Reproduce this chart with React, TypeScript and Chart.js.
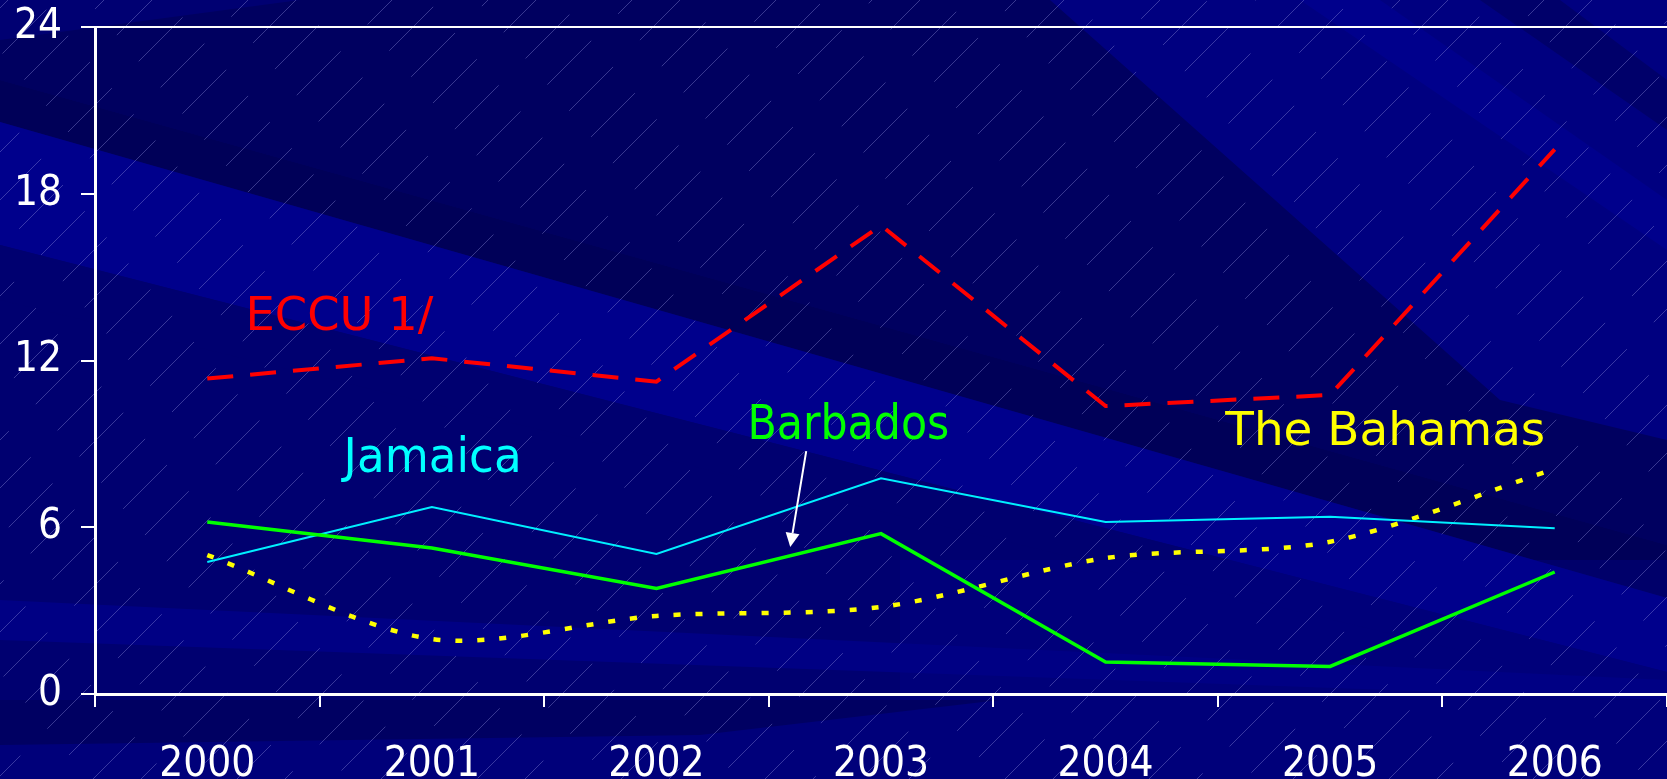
import React, { useEffect, useRef } from "react";
import { Chart, registerables } from "chart.js";

Chart.register(...registerables);

// Years on the category axis
const years = ["2000", "2001", "2002", "2003", "2004", "2005", "2006"];

// Series values
const eccu = [11.35, 12.08, 11.24, 16.86, 10.36, 10.76, 19.6];
const jamaica = [4.75, 6.73, 5.04, 7.76, 6.19, 6.38, 5.96];
const barbados = [6.19, 5.25, 3.8, 5.77, 1.15, 0.99, 4.39];
const bahamas = [5.0, 1.98, 2.81, 3.13, 4.89, 5.48, 8.1];

// Value axis ticks
const yTicks = [0, 6, 12, 18, 24];

const W = 1667;
const H = 779;

const TICK_FONT = '"DejaVu Sans Condensed", "DejaVu Sans", sans-serif';
const LABEL_FONT = '"DejaVu Sans", sans-serif';

// Series captions, anchored in data space (category index, value) at the text baseline
const captions = [
  { text: "ECCU 1/", x: 0.17, y: 13.1, color: "#ff0000", size: 47, maxWidth: 188 },
  { text: "Jamaica", x: 0.607, y: 7.99, color: "#00ffff", size: 48, maxWidth: 178 },
  { text: "Barbados", x: 2.405, y: 9.18, color: "#00ff00", size: 48, maxWidth: 202 },
  { text: "The Bahamas", x: 4.533, y: 8.96, color: "#ffff00", size: 47, maxWidth: 320 },
];

// Pointer from the Barbados caption to its line
const pointer = { from: [2.667, 8.74], to: [2.596, 5.29] };

type Poly = { pts: number[][]; color: string };

// Slide-style backdrop: diagonal bands of navy
const bands: Poly[] = [
  { pts: [[0, 0], [W, 0], [W, H], [0, H]], color: "#000070" },
  { pts: [[0, 0], [1180, 0], [W, 330], [W, 545], [0, 80]], color: "#000060" },
  { pts: [[0, 0], [300, 0], [0, 40]], color: "#000072" },
  { pts: [[1050, 0], [W, 0], [W, 440], [1500, 400]], color: "#000080" },
  { pts: [[1300, 0], [1380, 0], [W, 200], [W, 250]], color: "#00008c" },
  { pts: [[1480, 0], [1560, 0], [W, 80], [W, 130]], color: "#00006a" },
  { pts: [[0, 80], [W, 545], [W, 598], [0, 122]], color: "#000058" },
  { pts: [[0, 122], [W, 598], [W, 672], [0, 245]], color: "#00008c" },
  { pts: [[0, 245], [W, 672], [W, 700], [0, 300]], color: "#000070" },
  { pts: [[900, 560], [W, 560], [W, 700], [900, 700]], color: "rgba(0,0,140,0.35)" },
  { pts: [[0, 600], [W, 680], [W, 700], [0, 640]], color: "#000084" },
  { pts: [[0, 700], [W, 700], [W, H], [0, H]], color: "#00007a" },
  { pts: [[0, 700], [1000, 700], [700, 735], [0, 745]], color: "#000062" },
];

const backdrop = {
  id: "backdrop",
  beforeDraw(chart: Chart) {
    const ctx = chart.ctx;
    ctx.save();
    for (const b of bands) {
      ctx.beginPath();
      b.pts.forEach(([x, y], i) => (i ? ctx.lineTo(x, y) : ctx.moveTo(x, y)));
      ctx.closePath();
      ctx.fillStyle = b.color;
      ctx.fill();
    }
    // fine dashed hatching rising to the right
    ctx.strokeStyle = "rgba(150,150,225,0.38)";
    ctx.lineWidth = 1;
    let i = 0;
    for (let c = -40; c < W + H; c += 48) {
      ctx.setLineDash([62, 38]);
      ctx.lineDashOffset = (i * 37) % 100;
      ctx.beginPath();
      ctx.moveTo(c - H, H);
      ctx.lineTo(c, 0);
      ctx.stroke();
      i++;
    }
    ctx.restore();
  },
};

const annotations = {
  id: "annotations",
  afterDatasetsDraw(chart: Chart) {
    const ctx = chart.ctx;
    const xs = chart.scales.x;
    const ys = chart.scales.y;
    const px = (v: number) => xs.getPixelForValue(0) + v * (xs.getPixelForValue(1) - xs.getPixelForValue(0));
    ctx.save();
    ctx.textAlign = "left";
    ctx.textBaseline = "alphabetic";
    for (const c of captions) {
      ctx.font = `${c.size}px ${LABEL_FONT}`;
      ctx.fillStyle = c.color;
      ctx.fillText(c.text, px(c.x), ys.getPixelForValue(c.y), c.maxWidth);
    }
    const x0 = px(pointer.from[0]);
    const y0 = ys.getPixelForValue(pointer.from[1]);
    const x1 = px(pointer.to[0]);
    const y1 = ys.getPixelForValue(pointer.to[1]);
    const ang = Math.atan2(y1 - y0, x1 - x0);
    const head = 14;
    const half = 7;
    const bx = x1 - head * Math.cos(ang);
    const by = y1 - head * Math.sin(ang);
    ctx.strokeStyle = "#ffffff";
    ctx.fillStyle = "#ffffff";
    ctx.lineWidth = 2;
    ctx.beginPath();
    ctx.moveTo(x0, y0);
    ctx.lineTo(bx, by);
    ctx.stroke();
    ctx.beginPath();
    ctx.moveTo(x1, y1);
    ctx.lineTo(bx + half * Math.sin(ang), by - half * Math.cos(ang));
    ctx.lineTo(bx - half * Math.sin(ang), by + half * Math.cos(ang));
    ctx.closePath();
    ctx.fill();
    ctx.restore();
  },
};

export default function App() {
  const ref = useRef<HTMLCanvasElement | null>(null);

  useEffect(() => {
    document.body.style.margin = "0";
    document.body.style.background = "#000070";
    const canvas = ref.current;
    if (!canvas) return;
    const line = { pointRadius: 0, pointHoverRadius: 0, fill: false };
    const chart = new Chart(canvas, {
      type: "line",
      data: {
        labels: years,
        datasets: [
          { ...line, label: "ECCU 1/", data: eccu, borderColor: "#ff0000", borderWidth: 4, borderDash: [26, 17], tension: 0 },
          { ...line, label: "Barbados", data: barbados, borderColor: "#00ff00", borderWidth: 3.5, tension: 0 },
          { ...line, label: "Jamaica", data: jamaica, borderColor: "#00f0ff", borderWidth: 2, tension: 0 },
          { ...line, label: "The Bahamas", data: bahamas, borderColor: "#ffff00", borderWidth: 4.5, borderDash: [7, 15], tension: 0.3 },
        ],
      },
      options: {
        animation: false,
        responsive: false,
        maintainAspectRatio: false,
        layout: { padding: { top: 27, right: 0, bottom: 0, left: 0 } },
        plugins: { legend: { display: false }, tooltip: { enabled: false } },
        scales: {
          x: {
            type: "category",
            offset: true,
            grid: { offset: true, drawOnChartArea: false, color: "#ffffff", tickColor: "#ffffff", tickLength: 13, lineWidth: 2 },
            border: { color: "#ffffff", width: 3 },
            ticks: { color: "#ffffff", font: { family: TICK_FONT, size: 42 }, padding: 33, maxRotation: 0, autoSkip: false },
            afterFit: (s: any) => { s.height = 85; },
          },
          y: {
            min: 0,
            max: 24,
            afterBuildTicks: (s: any) => { s.ticks = yTicks.map((v) => ({ value: v })); },
            grid: {
              color: (c: any) => (c.tick && c.tick.value === 24 ? "#ffffff" : "rgba(0,0,0,0)"),
              tickColor: "#ffffff",
              lineWidth: 2,
              tickLength: 14,
              drawOnChartArea: true,
            },
            border: { color: "#ffffff", width: 3 },
            ticks: { color: "#ffffff", font: { family: TICK_FONT, size: 42 }, padding: 19 },
            afterFit: (s: any) => {
              s.width = 95;
              s.paddingTop = 0;
              s.paddingBottom = 0;
            },
          },
        },
      },
      plugins: [backdrop, annotations],
    });
    return () => chart.destroy();
  }, []);

  return (
    <div style={{ width: W, height: H }}>
      <canvas ref={ref} width={W} height={H} style={{ display: "block" }} />
    </div>
  );
}
